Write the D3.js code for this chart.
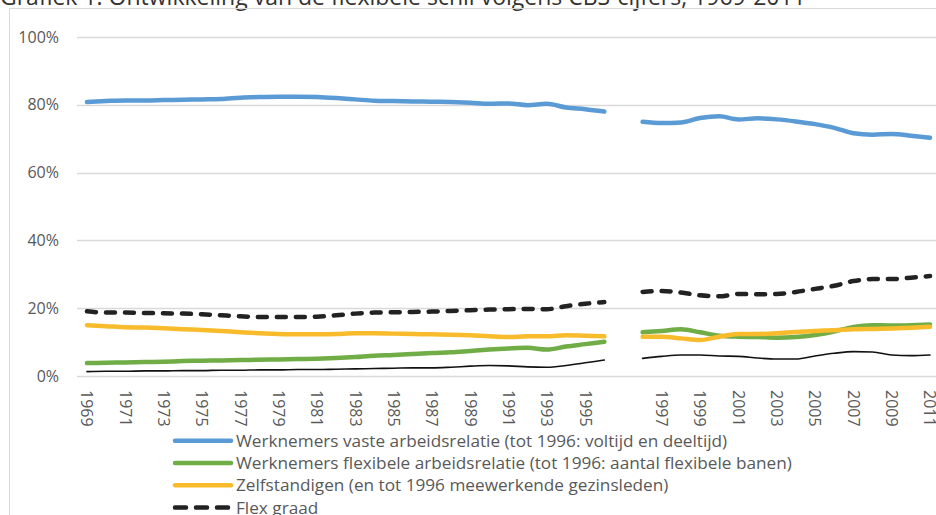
<!DOCTYPE html>
<html>
<head>
<meta charset="utf-8">
<script src="https://cdn.jsdelivr.net/npm/d3@7"></script>
<style>
  html, body { margin: 0; padding: 0; background: #fff; }
  svg { display: block; font-family: "Open Sans", Lato, sans-serif; }
</style>
</head>
<body>
<svg id="chart" width="936" height="515"></svg>
<script>
// Category labels: 1969-1996 (old definition), a gap, then 1996-2011 (new definition)
const yearsOld = d3.range(1969, 1997).map(String);
const yearsNew = ['1996'].concat(d3.range(1997, 2012).map(String));
const categories = yearsOld.concat([''], yearsNew);

// Percentages
const vasteOld = [80.8, 81.1, 81.3, 81.3, 81.4, 81.5, 81.6, 81.7, 82.1, 82.3, 82.4, 82.4, 82.3, 82.0,
  81.6, 81.2, 81.1, 81.0, 80.9, 80.8, 80.6, 80.3, 80.4, 79.9, 80.3, 79.2, 78.7, 78.0];
const vasteNew = [75.0, 74.6, 74.8, 76.1, 76.6, 75.7, 76.0, 75.7, 75.1, 74.3, 73.2, 71.6, 71.2, 71.4, 70.9, 70.3];

const flexibelOld = [3.8, 3.9, 4.0, 4.1, 4.2, 4.4, 4.5, 4.6, 4.7, 4.8, 4.9, 5.0, 5.1, 5.3,
  5.6, 6.0, 6.2, 6.5, 6.8, 7.0, 7.4, 7.8, 8.1, 8.3, 7.8, 8.7, 9.4, 10.1];
const flexibelNew = [12.9, 13.3, 13.8, 12.9, 11.9, 11.6, 11.5, 11.3, 11.5, 12.1, 13.1, 14.5, 15.0, 14.9, 15.0, 15.2];

const zelfstOld = [15.0, 14.7, 14.4, 14.3, 14.1, 13.8, 13.6, 13.3, 12.9, 12.6, 12.4, 12.3, 12.3, 12.4,
  12.6, 12.6, 12.5, 12.4, 12.3, 12.2, 12.0, 11.7, 11.5, 11.7, 11.7, 12.0, 11.9, 11.7];
const zelfstNew = [11.6, 11.6, 11.1, 10.6, 11.6, 12.4, 12.4, 12.6, 13.0, 13.3, 13.5, 13.8, 13.9, 14.0, 14.2, 14.5];

const flexGraadOld = [19.1, 18.7, 18.7, 18.6, 18.5, 18.4, 18.2, 17.9, 17.6, 17.4, 17.4, 17.4, 17.5, 17.9,
  18.4, 18.7, 18.8, 18.9, 19.0, 19.2, 19.4, 19.6, 19.7, 19.8, 19.7, 20.6, 21.3, 21.8];
const flexGraadNew = [24.8, 25.1, 24.6, 23.8, 23.5, 24.2, 24.1, 24.2, 24.8, 25.7, 26.6, 28.0, 28.6, 28.6, 29.0, 29.5];

// thin black line without legend entry
const overigOld = [1.3, 1.4, 1.4, 1.5, 1.5, 1.6, 1.6, 1.7, 1.7, 1.8, 1.8, 1.9, 1.9, 2.0,
  2.1, 2.2, 2.3, 2.4, 2.4, 2.6, 2.9, 3.1, 3.0, 2.7, 2.6, 3.1, 3.9, 4.7];
const overigNew = [5.2, 5.8, 6.2, 6.2, 5.9, 5.8, 5.3, 5.0, 5.0, 5.9, 6.7, 7.2, 7.1, 6.2, 6.0, 6.2];

const yTicks = [0, 20, 40, 60, 80, 100];

const join = (a, b) => a.concat([null], b);

const series = [
  { name: 'Werknemers vaste arbeidsrelatie (tot 1996: voltijd en deeltijd)', values: join(vasteOld, vasteNew),
    color: '#5b9bd5', width: 4.5, legend: true },
  { name: 'Werknemers flexibele arbeidsrelatie (tot 1996: aantal flexibele banen)', values: join(flexibelOld, flexibelNew),
    color: '#70ad47', width: 4.5, legend: true },
  { name: 'Zelfstandigen (en tot 1996 meewerkende gezinsleden)', values: join(zelfstOld, zelfstNew),
    color: '#f8bb2c', width: 4.5, legend: true },
  { name: 'Flex graad', values: join(flexGraadOld, flexGraadNew),
    color: '#222', width: 4.5, dash: '9 10', legend: true },
  { name: 'overig', values: join(overigOld, overigNew),
    color: '#111', width: 1.6, legend: false }
];

const svg = d3.select('#chart');

// chart frame + title (title sits partly above the picture)
svg.append('text')
  .attr('x', 0).attr('y', 5)
  .attr('font-size', 23)
  .attr('fill', '#333')
  .text('Grafiek 1. Ontwikkeling van de flexibele schil volgens CBS-cijfers, 1969-2011');

svg.append('rect')
  .attr('x', 9.5).attr('y', 8.5)
  .attr('width', 940).attr('height', 520)
  .attr('fill', 'none')
  .attr('stroke', '#d9d9d9');

// scales
const x = d3.scaleBand()
  .domain(d3.range(categories.length))
  .range([77.4, 77.4 + 19.16 * categories.length])
  .padding(0);

const y = d3.scaleLinear().domain([0, 100]).range([376, 37]);

const cx = (i) => x(i) + x.bandwidth() / 2;

// gridlines
svg.append('g')
  .selectAll('line')
  .data(yTicks)
  .join('line')
  .attr('x1', 77).attr('x2', 936)
  .attr('y1', (d) => Math.round(y(d)) + 0.5)
  .attr('y2', (d) => Math.round(y(d)) + 0.5)
  .attr('stroke', '#d9d9d9')
  .attr('stroke-width', 1.3);

// y labels
svg.append('g')
  .selectAll('text')
  .data(yTicks)
  .join('text')
  .attr('x', 59)
  .attr('y', (d) => y(d))
  .attr('dy', '0.35em')
  .attr('text-anchor', 'end')
  .attr('font-size', 16)
  .attr('fill', '#595959')
  .text((d) => d + '%');

// x labels, every other category, rotated
svg.append('g')
  .selectAll('text')
  .data(d3.range(0, categories.length, 2))
  .join('text')
  .attr('transform', (i) => `translate(${cx(i)},390) rotate(90)`)
  .attr('dy', '0.35em')
  .attr('font-size', 16)
  .attr('fill', '#595959')
  .text((i) => categories[i]);

// lines
const line = d3.line()
  .defined((d) => d != null)
  .x((d, i) => cx(i))
  .y((d) => y(d))
  .curve(d3.curveMonotoneX);

const drawOrder = [series[4], series[0], series[1], series[2], series[3]];

svg.append('g')
  .selectAll('path')
  .data(drawOrder)
  .join('path')
  .attr('d', (s) => line(s.values))
  .attr('fill', 'none')
  .attr('stroke', (s) => s.color)
  .attr('stroke-width', (s) => s.width)
  .attr('stroke-dasharray', (s) => s.dash || null)
  .attr('stroke-linecap', 'round')
  .attr('stroke-linejoin', 'round');

// legend
const legend = svg.append('g')
  .selectAll('g')
  .data(series.filter((s) => s.legend))
  .join('g')
  .attr('transform', (s, i) => `translate(0,${440.7 + i * 22.3})`);

legend.append('line')
  .attr('x1', 175).attr('x2', 231)
  .attr('stroke', (s) => s.color)
  .attr('stroke-width', (s) => s.width)
  .attr('stroke-dasharray', (s) => (s.dash ? '11 10' : null))
  .attr('stroke-linecap', 'round');

legend.append('text')
  .attr('x', 236)
  .attr('dy', '0.35em')
  .attr('font-size', 17.2)
  .attr('fill', '#595959')
  .text((s) => s.name);
</script>
</body>
</html>
